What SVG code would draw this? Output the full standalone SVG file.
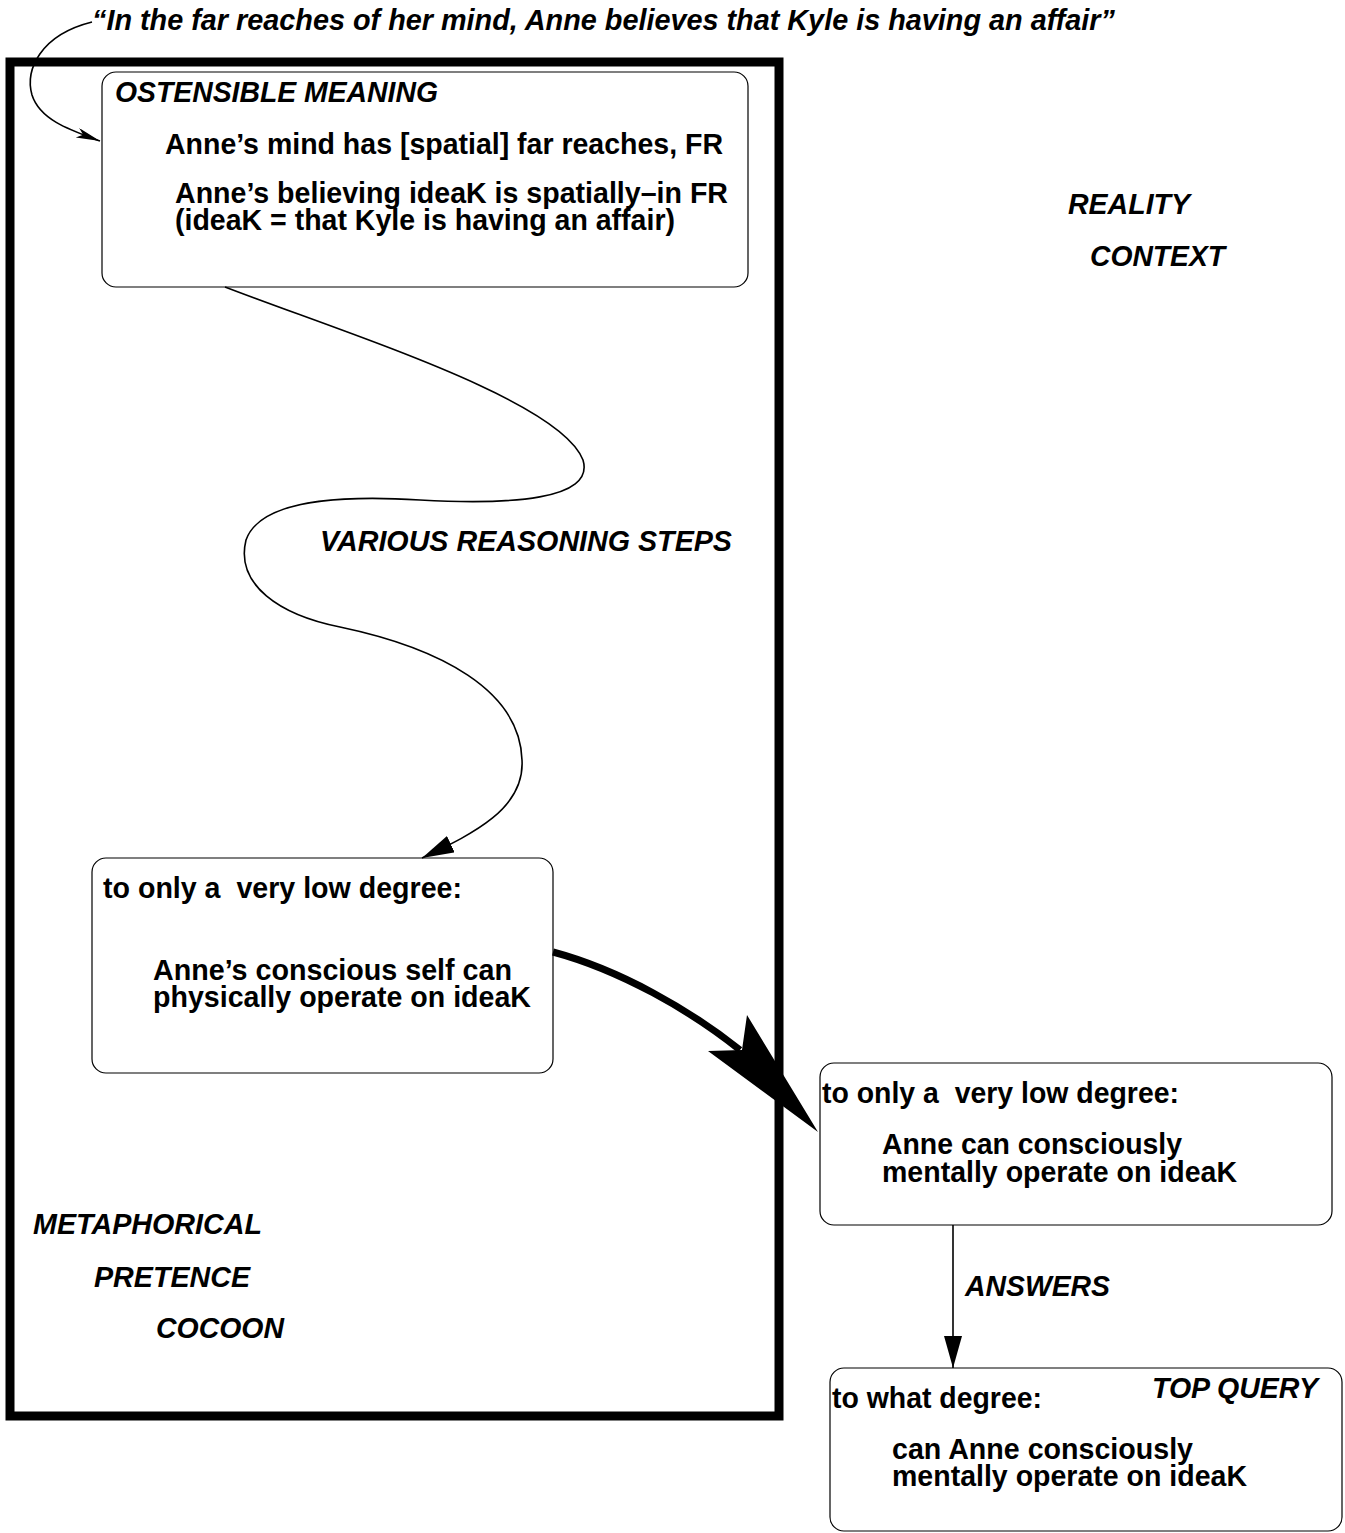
<svg xmlns="http://www.w3.org/2000/svg" width="1345" height="1533" viewBox="0 0 1345 1533">
<style>
.t{font-family:"Liberation Sans",Arial,sans-serif;font-weight:bold;font-size:30px;fill:#000}
.i{font-family:"Liberation Sans",Arial,sans-serif;font-weight:bold;font-style:italic;font-size:29px;fill:#000}
.box{fill:none;stroke:#000;stroke-width:1.2}
.ln{fill:none;stroke:#000;stroke-width:1.6}
</style>
<defs>
<marker id="ah" markerUnits="userSpaceOnUse" markerWidth="34" markerHeight="20" refX="32" refY="9" orient="auto" viewBox="0 0 34 20">
<path d="M0,0 L32,9 L0,18 z" fill="#000"/>
</marker>
<marker id="ahs" markerUnits="userSpaceOnUse" markerWidth="26" markerHeight="12" refX="24" refY="5" orient="auto" viewBox="0 0 26 12">
<path d="M0,0 L24,5 L0,10 L6,5 z" fill="#000"/>
</marker>
</defs>
<rect width="1345" height="1533" fill="#fff"/>

<g id="quote">
<text class="i" x="92" y="30" textLength="1023" lengthAdjust="spacingAndGlyphs">“In the far reaches of her mind, Anne believes that Kyle is having an affair”</text>
</g>

<g id="cocoon">
<rect x="10" y="62" width="769" height="1354" fill="none" stroke="#000" stroke-width="9"/>
<text class="i" x="33" y="1234" textLength="229" lengthAdjust="spacingAndGlyphs">METAPHORICAL</text>
<text class="i" x="94" y="1287" textLength="156" lengthAdjust="spacingAndGlyphs">PRETENCE</text>
<text class="i" x="156" y="1338" textLength="128" lengthAdjust="spacingAndGlyphs">COCOON</text>
</g>

<g id="reality">
<text class="i" x="1068" y="214" textLength="122" lengthAdjust="spacingAndGlyphs">REALITY</text>
<text class="i" x="1090" y="266" textLength="135" lengthAdjust="spacingAndGlyphs">CONTEXT</text>
</g>

<g id="ostensible">
<rect class="box" x="102" y="72" width="646" height="215" rx="14"/>
<text class="i" x="115" y="102" textLength="323" lengthAdjust="spacingAndGlyphs">OSTENSIBLE MEANING</text>
<text class="t" x="165" y="154" textLength="558" lengthAdjust="spacingAndGlyphs">Anne’s mind has [spatial] far reaches, FR</text>
<text class="t" x="175" y="203" textLength="553" lengthAdjust="spacingAndGlyphs">Anne’s believing ideaK is spatially–in FR</text>
<text class="t" x="175" y="230" textLength="500" lengthAdjust="spacingAndGlyphs">(ideaK = that Kyle is having an affair)</text>
</g>

<g id="lowdegree1">
<rect class="box" x="92" y="858" width="461" height="215" rx="14"/>
<text class="t" x="103" y="898" textLength="359" lengthAdjust="spacingAndGlyphs">to only a&#160; very low degree:</text>
<text class="t" x="153" y="980" textLength="359" lengthAdjust="spacingAndGlyphs">Anne’s conscious self can</text>
<text class="t" x="153" y="1007" textLength="378" lengthAdjust="spacingAndGlyphs">physically operate on ideaK</text>
</g>

<g id="lowdegree2">
<rect class="box" x="820" y="1063" width="512" height="162" rx="14"/>
<text class="t" x="822" y="1103" textLength="357" lengthAdjust="spacingAndGlyphs">to only a&#160; very low degree:</text>
<text class="t" x="882" y="1154" textLength="300" lengthAdjust="spacingAndGlyphs">Anne can consciously</text>
<text class="t" x="882" y="1182" textLength="355" lengthAdjust="spacingAndGlyphs">mentally operate on ideaK</text>
</g>

<g id="topquery">
<rect class="box" x="830" y="1368" width="512" height="163" rx="14"/>
<text class="t" x="832" y="1408" textLength="210" lengthAdjust="spacingAndGlyphs">to what degree:</text>
<text class="i" x="1152" y="1398" textLength="166" lengthAdjust="spacingAndGlyphs">TOP QUERY</text>
<text class="t" x="892" y="1459" textLength="301" lengthAdjust="spacingAndGlyphs">can Anne consciously</text>
<text class="t" x="892" y="1486" textLength="355" lengthAdjust="spacingAndGlyphs">mentally operate on ideaK</text>
</g>

<g id="connectors">
<path class="ln" d="M92,22 C40,35 25,70 32,95 C40,120 70,130 100,141" stroke-width="1.2" marker-end="url(#ahs)"/>
<path class="ln" d="M225,287 C350,335 560,400 583,460 C595,500 510,505 420,500 C340,495 260,500 246,540 C235,585 280,615 340,627 C440,648 520,690 522,760 C525,810 470,835 422,858" marker-end="url(#ah)"/>
<text class="i" x="320" y="551" textLength="412" lengthAdjust="spacingAndGlyphs">VARIOUS REASONING STEPS</text>
<path d="M553,952 C620,970 690,1010 740,1050" fill="none" stroke="#000" stroke-width="7"/>
<polygon points="818,1132 747,1015 742,1050 708,1051" fill="#000"/>
<path class="ln" d="M953,1225 L953,1368" stroke-width="1.2" marker-end="url(#ah)"/>
<text class="i" x="965" y="1296" textLength="145" lengthAdjust="spacingAndGlyphs">ANSWERS</text>
</g>
</svg>
